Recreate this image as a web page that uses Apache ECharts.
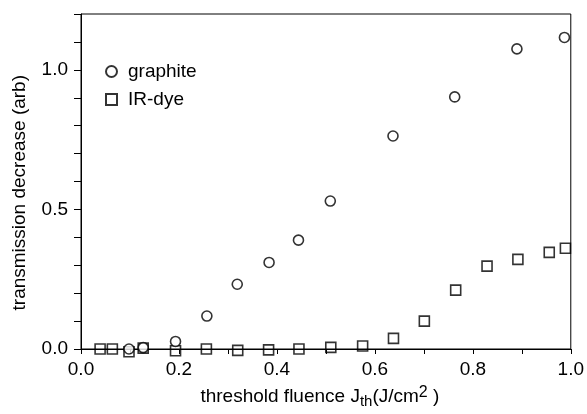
<!DOCTYPE html>
<html>
<head>
<meta charset="utf-8">
<script src="https://cdn.jsdelivr.net/npm/echarts@6/dist/echarts.min.js"></script>
<style>
html,body{margin:0;padding:0;background:#fff;}
#chart{width:587px;height:414px;}
</style>
</head>
<body>
<div id="chart"></div>
<script>
// Graphite (circles)
const graphiteX = [0.098, 0.127, 0.193, 0.257, 0.319, 0.384, 0.444, 0.509, 0.637, 0.763, 0.890, 0.987];
const graphiteY = [0.000, 0.005, 0.027, 0.118, 0.232, 0.310, 0.390, 0.530, 0.763, 0.903, 1.075, 1.116];
// IR-dye (squares)
const irdyeX = [0.039, 0.064, 0.098, 0.127, 0.193, 0.256, 0.320, 0.383, 0.445, 0.510, 0.575, 0.638, 0.701, 0.765, 0.829, 0.892, 0.956, 0.989];
const irdyeY = [0.000, 0.000, -0.010, 0.003, -0.006, 0.000, -0.005, -0.003, 0.000, 0.006, 0.011, 0.038, 0.100, 0.211, 0.297, 0.321, 0.346, 0.361];

const xLabels = [0.0, 0.2, 0.4, 0.6, 0.8, 1.0];
const yLabels = [0.0, 0.5, 1.0];
const yTitle = 'transmission decrease (arb)';

const FONT = "'Liberation Sans', Arial, Helvetica, sans-serif";
const FS = 19;

function pairs(xs, ys) { return xs.map((x, i) => [x, ys[i]]); }
function isLabel(v, list) { return list.some(l => Math.abs(l - v) < 1e-6); }

const chart = echarts.init(document.getElementById('chart'), null, {renderer: 'canvas'});
chart.setOption({
  animation: false,
  backgroundColor: '#fff',
  grid: {left: 81, right: 14, top: 14, bottom: 65, show: true, borderColor: '#000', borderWidth: 1, backgroundColor: 'transparent'},
  legend: {
    left: 100, top: 57, orient: 'vertical', itemGap: 9,
    itemWidth: 11, itemHeight: 11,
    textStyle: {fontFamily: FONT, fontSize: FS, color: '#000', padding: [0, 0, 0, 6]},
    data: ['graphite', 'IR-dye']
  },
  graphic: [{
    type: 'text', left: 10, top: 75, rotation: Math.PI / 2,
    style: {text: yTitle, font: FS + 'px ' + FONT, fill: '#000'}
  }],
  xAxis: {
    type: 'value', min: 0, max: 1, interval: 0.1,
    axisLine: {show: true, onZero: false, lineStyle: {color: '#000', width: 1}},
    axisTick: {show: true, inside: false, length: 5, lineStyle: {color: '#000'}},
    splitLine: {show: false},
    axisLabel: {
      fontFamily: FONT, fontSize: FS, color: '#000', margin: 11,
      formatter: v => isLabel(v, xLabels) ? v.toFixed(1) : ''
    },
    name: '{a|threshold fluence J}{sub|th}{a|(J/cm}{sup|2}{a| )}',
    nameLocation: 'middle', nameGap: 36,
    nameTextStyle: {
      padding: [0, 12, 0, 0],
      rich: {
        a: {fontFamily: FONT, fontSize: FS, color: '#000', lineHeight: 24, verticalAlign: 'middle'},
        sub: {fontFamily: FONT, fontSize: 15, color: '#000', lineHeight: 15, verticalAlign: 'bottom'},
        sup: {fontFamily: FONT, fontSize: 16, color: '#000', lineHeight: 16, verticalAlign: 'top'}
      }
    }
  },
  yAxis: {
    type: 'value', min: 0, max: 1.2, interval: 0.1,
    axisLine: {show: true, onZero: false, lineStyle: {color: '#000', width: 1}},
    axisTick: {show: true, inside: false, length: 7, lineStyle: {color: '#000'}},
    splitLine: {show: false},
    axisLabel: {
      fontFamily: FONT, fontSize: FS, color: '#000', margin: 13,
      formatter: v => isLabel(v, yLabels) ? v.toFixed(1) : ''
    }
  },
  series: [
    {
      name: 'graphite', type: 'scatter', symbol: 'circle', symbolSize: 10, clip: false,
      itemStyle: {color: '#fff', borderColor: '#000', borderWidth: 1.6},
      data: pairs(graphiteX, graphiteY), z: 3
    },
    {
      name: 'IR-dye', type: 'scatter', symbol: 'rect', symbolSize: 10, clip: false,
      itemStyle: {color: 'rgba(255,255,255,0)', borderColor: '#000', borderWidth: 1.6},
      data: pairs(irdyeX, irdyeY), z: 2
    }
  ]
});
</script>
</body>
</html>
